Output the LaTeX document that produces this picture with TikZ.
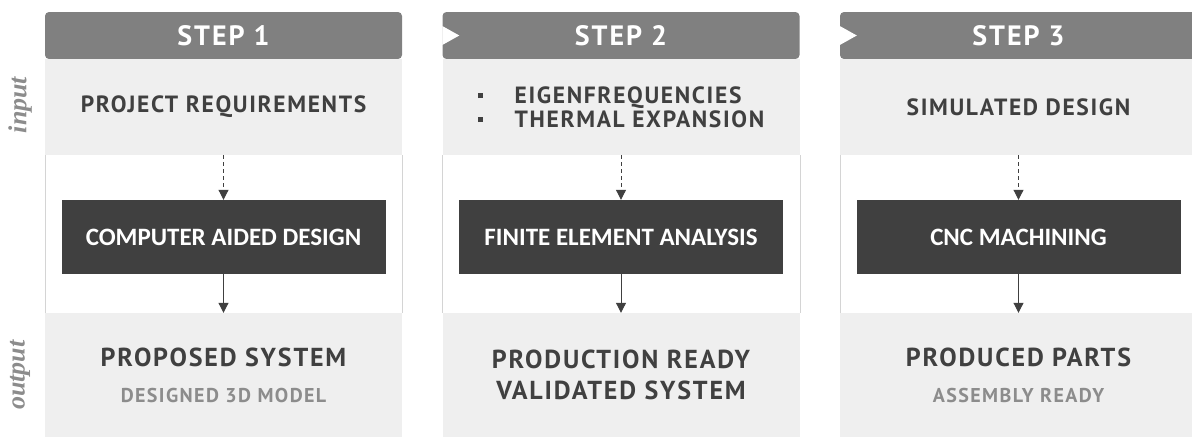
\documentclass[tikz,border=0pt]{standalone}
\usepackage{fontspec}
\setmainfont{PT Sans}[LetterSpace=7]
\newfontfamily\cajafont{Carlito}
\newfontfamily\ladofont{Liberation Serif}
\usetikzlibrary{arrows.meta, positioning}
\definecolor{cabecera}{HTML}{808080}
\definecolor{fondo}{HTML}{EFEFEF}
\definecolor{oscuro}{HTML}{404040}
\definecolor{borde}{HTML}{D4D4D4}
\definecolor{tenue}{HTML}{8C8C8C}
\tikzset{
  every picture/.style={x=1pt, y=-1pt, >={Triangle[length=10pt, width=10pt]}},
  cabeza/.style={fill=cabecera, text=white, rounded corners=4pt, inner sep=0pt,
              minimum width=357pt, minimum height=47pt, font=\fontsize{28}{30}\selectfont\bfseries},
  entrada/.style={fill=fondo, text=oscuro, inner sep=0pt, minimum width=357pt, minimum height=96pt,
              font=\fontsize{23.5}{24}\selectfont\bfseries, align=left},
  proceso/.style={fill=oscuro, text=white, inner sep=0pt, minimum width=324pt, minimum height=74pt,
              font=\cajafont\fontsize{25}{27}\selectfont\bfseries},
  salida/.style={fill=fondo, text=oscuro, inner sep=0pt, minimum width=357pt, minimum height=124pt,
              font=\fontsize{26}{31}\selectfont\bfseries, align=center},
  lado/.style={text=tenue, rotate=90, font=\ladofont\fontsize{26}{28}\selectfont\itshape\bfseries},
  flecha/.style={->, line width=1pt, oscuro},
  flechad/.style={->, line width=1pt, dash pattern=on 4pt off 3pt, oscuro},
}
\newcommand{\vineta}{\makebox[37pt][l]{\raisebox{5pt}{\rule{5pt}{5pt}}}}
\newcommand{\sub}[1]{\\[5pt]{\color{tenue}\fontsize{20}{22}\selectfont #1}}

\begin{document}
\begin{tikzpicture}
  \useasboundingbox (0,0) rectangle (1192,437);
  \clip (0,0) rectangle (1192,437);
  \foreach \x/\ent/\proc/\sal [count=\i] in {
      223.5/{PROJECT REQUIREMENTS}/{COMPUTER AIDED DESIGN}/{PROPOSED SYSTEM\sub{DESIGNED 3D MODEL}},
      621/{\vineta EIGENFREQUENCIES\\\vineta THERMAL EXPANSION}/{FINITE ELEMENT ANALYSIS}/{PRODUCTION READY\\VALIDATED SYSTEM},
      1018.5/{SIMULATED DESIGN}/{CNC MACHINING}/{PRODUCED PARTS\sub{ASSEMBLY READY}}} {
    \node[cabeza] (hdr\i) at (\x,35.5) {STEP \i};
    \node[entrada] (inp\i) at (\x,107) {\ent};
    \node[proceso] (proc\i) at (\x,237) {\proc};
    \node[salida] (out\i) at (\x,375) {\sal};
    \draw[borde] (inp\i.south west) -- (out\i.north west);
    \draw[borde] (inp\i.south east) -- (out\i.north east);
    \draw[flechad] (inp\i) -- (proc\i);
    \draw[flecha] (proc\i) -- (out\i);
  }
  % marcas de paso en la cabecera
  \foreach \i in {2,3}
    \fill[white] (hdr\i.west) ++(0,-9.5) -- ++(17,9.5) -- ++(-17,9.5) -- cycle;
  \node[lado] (etqin) at (20,105) {input};
  \node[lado] (etqout) at (20,375) {output};
\end{tikzpicture}
\end{document}
